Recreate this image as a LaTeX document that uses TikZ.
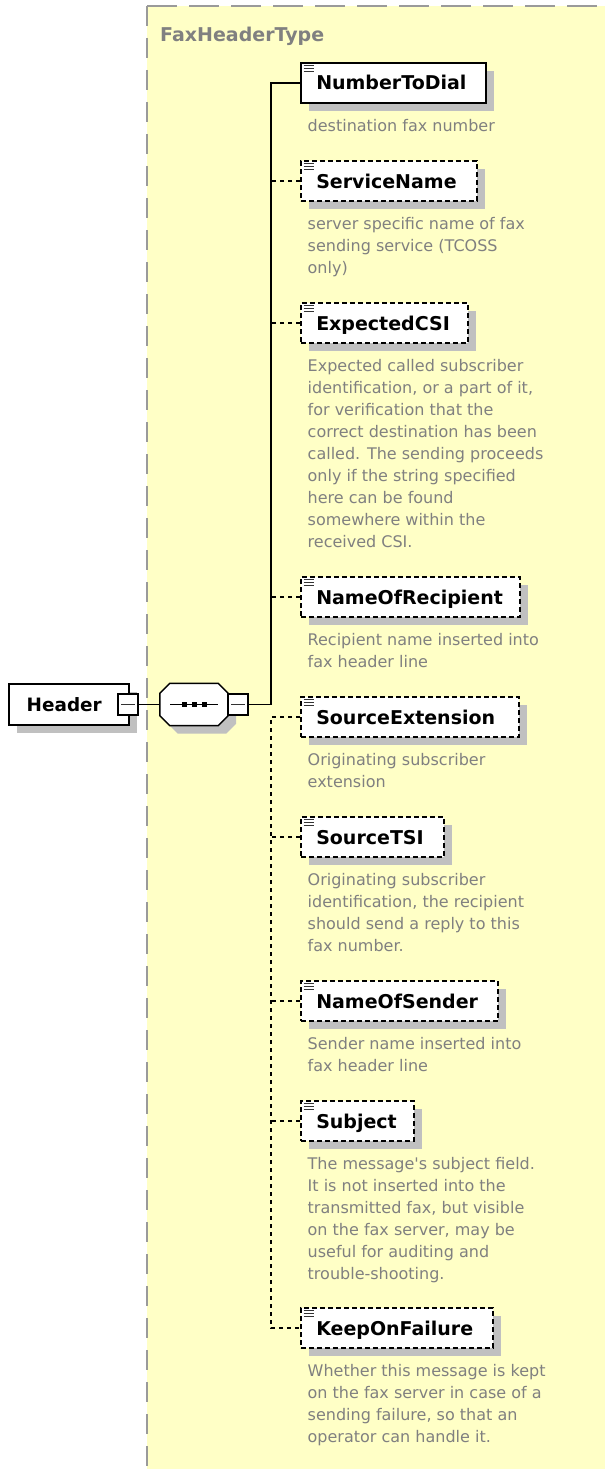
\documentclass[tikz,border=0pt]{standalone}
\usepackage{fontspec}
\setmainfont{DejaVu Sans}
\usetikzlibrary{shadows}
\definecolor{bgyellow}{HTML}{FFFFC6}
\definecolor{bordergray}{HTML}{9A9A9A}
\definecolor{descgray}{HTML}{808080}
\definecolor{shadowgray}{HTML}{C0C0C0}
\newcommand\descfont{\fontsize{16}{22}\selectfont}
\newcommand\lblfont{\fontsize{19}{22}\selectfont\bfseries}
\newcommand\hdrfont{\fontsize{18.4}{22}\selectfont\bfseries}
\newcommand\lbl[3]{\hbox to #1pt{\hskip #2pt #3\hfil}}
\begin{document}
\begin{tikzpicture}[x=1pt,y=-1pt,
  elem/.style={draw=black, line width=1.5pt, fill=white, inner sep=0pt,
    minimum height=40pt, anchor=west, font=\lblfont, text height=16pt, text depth=2pt,
    drop shadow={shadow xshift=8pt, shadow yshift=-8pt, fill=shadowgray, opacity=1}},
  optelem/.style={elem, dash pattern=on 5pt off 3pt},
  desc/.style={anchor=north west, inner sep=0pt, align=left, font=\descfont, text=descgray},
  conn/.style={line width=1.5pt, draw=black},
  optconn/.style={conn, dash pattern=on 4pt off 4pt},
  icon/.style={line width=1.2pt, draw=black!80},
  minusbox/.style={draw=black, line width=1.5pt, fill=white, inner sep=0pt,
    minimum width=20pt, minimum height=21pt},
  minusline/.style={line width=1.1pt, draw=black!80}
]
\useasboundingbox (0,0) rectangle (605,1469);
% type area
\fill[bgyellow] (147,6) rectangle (605,1469);
\draw[bordergray, line width=2pt, dash pattern=on 30pt off 12pt] (147,6) -- (605,6);
\draw[bordergray, line width=2pt, dash pattern=on 20pt off 12pt] (147,6) -- (147,1469);
\node[anchor=base west, inner sep=0pt, font=\lblfont, text=descgray] (title) at (160,41.5) {FaxHeaderType};

% header element
\node[elem, minimum height=41pt, font=\hdrfont] (hdr) at (8,704.5) {\lbl{120}{18}{Header}};
\node[minusbox] (hm) at (128,704.5) {};
\draw[minusline] ([xshift=4pt]hm.west) -- ([xshift=-4pt]hm.east);

% sequence compositor
\node[inner sep=0pt, minimum width=68pt, minimum height=42pt] (seq) at (194,704.5) {};
\fill[shadowgray] ([shift={(18,8)}]seq.north west) -- ([shift={(-2,8)}]seq.north east)
  -- ([shift={(8,18)}]seq.north east) -- ([shift={(8,-2)}]seq.south east)
  -- ([shift={(-2,8)}]seq.south east) -- ([shift={(18,8)}]seq.south west)
  -- ([shift={(8,-2)}]seq.south west) -- ([shift={(8,18)}]seq.north west) -- cycle;
\draw[conn, fill=white] ([shift={(10,0)}]seq.north west) -- ([shift={(-10,0)}]seq.north east)
  -- ([shift={(0,10)}]seq.north east) -- ([shift={(0,-10)}]seq.south east)
  -- ([shift={(-10,0)}]seq.south east) -- ([shift={(10,0)}]seq.south west)
  -- ([shift={(0,-10)}]seq.south west) -- ([shift={(0,10)}]seq.north west) -- cycle;
\draw[conn] ([xshift=-24pt]seq.center) -- ([xshift=24pt]seq.center);
\foreach \dx in {-10,0,10} \fill[black] ([xshift=\dx pt]seq.center) +(-2.5,-2.5) rectangle +(2.5,2.5);
\node[minusbox] (sm) at (238,704.5) {};
\draw[minusline] ([xshift=4pt]sm.west) -- ([xshift=-4pt]sm.east);
\coordinate (jmain) at (271,704.5);

% child elements
\node[elem]    (n1) at (300,83)   {\lbl{185}{15.5}{NumberToDial}};
\node[optelem] (n2) at (300,181)  {\lbl{176}{15.5}{ServiceName}};
\node[optelem] (n3) at (300,323)  {\lbl{167}{15.5}{ExpectedCSI}};
\node[optelem] (n4) at (300,597)  {\lbl{219}{15.5}{NameOfRecipient}};
\node[optelem] (n5) at (300,717)  {\lbl{218}{15.5}{SourceExtension}};
\node[optelem] (n6) at (300,837)  {\lbl{143}{15.5}{SourceTSI}};
\node[optelem] (n7) at (300,1001) {\lbl{197}{15.5}{NameOfSender}};
\node[optelem] (n8) at (300,1121) {\lbl{113}{15.5}{Subject}};
\node[optelem] (n9) at (300,1328) {\lbl{192}{15.5}{KeepOnFailure}};
\foreach \n in {n1,n2,n3,n4,n5,n6,n7,n8,n9}
  \foreach \dy in {3.5,6.2,8.9}
    \draw[icon] ([shift={(3.5,\dy)}]\n.north west) -- ++(10,0);

% descriptions
\node[desc] (d1) at (307.5,115.6) {\strut destination fax number};
\node[desc] (d2) at (307.5,213.6) {\strut server specific name of fax\\sending service (TCOSS\\only)};
\node[desc] (d3) at (307.5,355.6) {\strut Expected called subscriber\\identification, or a part of it,\\for verification that the\\correct destination has been\\called. The sending proceeds\\only if the string specified\\here can be found\\somewhere within the\\received CSI.};
\node[desc] (d4) at (307.5,629.6) {\strut Recipient name inserted into\\fax header line};
\node[desc] (d5) at (307.5,749.6) {\strut Originating subscriber\\extension};
\node[desc] (d6) at (307.5,869.6) {\strut Originating subscriber\\identification, the recipient\\should send a reply to this\\fax number.};
\node[desc] (d7) at (307.5,1033.6) {\strut Sender name inserted into\\fax header line};
\node[desc] (d8) at (307.5,1153.6) {\strut The message\textquotesingle s subject field.\\It is not inserted into the\\transmitted fax, but visible\\on the fax server, may be\\useful for auditing and\\trouble-shooting.};
\node[desc] (d9) at (307.5,1360.6) {\strut Whether this message is kept\\on the fax server in case of a\\sending failure, so that an\\operator can handle it.};

% connectors
\draw[conn] (hm.east) -- (seq.west);
\draw[conn] (sm.east) -- (jmain);
\draw[conn] (n1.west) -| (jmain);
\draw[optconn] (n2.west) -- (n2.west -| jmain);
\draw[optconn] (n3.west) -- (n3.west -| jmain);
\draw[optconn] (n4.west) -- (n4.west -| jmain);
\draw[optconn] (n5.west) -- (n5.west -| jmain) -- (n9.west -| jmain) -- (n9.west);
\draw[optconn] (n6.west) -- (n6.west -| jmain);
\draw[optconn] (n7.west) -- (n7.west -| jmain);
\draw[optconn] (n8.west) -- (n8.west -| jmain);
\end{tikzpicture}
\end{document}
